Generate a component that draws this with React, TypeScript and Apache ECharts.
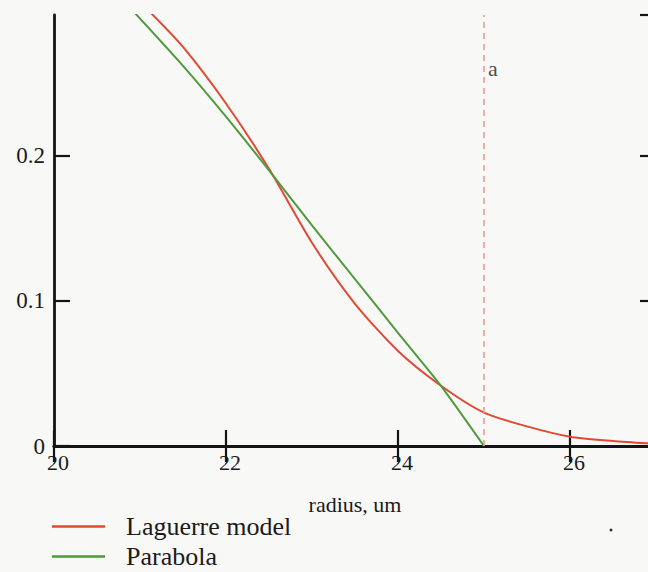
import React, { useEffect, useRef } from "react";
import * as echarts from "echarts";

const radiusLaguerre = [21.1, 21.5, 22, 22.5, 23, 23.5, 24, 24.5, 25, 25.5, 26, 26.5, 27];
const laguerreValues = [0.3, 0.275, 0.236, 0.191, 0.14, 0.098, 0.0655, 0.0415, 0.023, 0.0135, 0.0064, 0.0035, 0.0015];
const radiusParabola = [20.9, 21.5, 22, 22.5, 23, 23.5, 24, 24.5, 25];
const parabolaValues = [0.301, 0.262, 0.227, 0.19, 0.152, 0.115, 0.078, 0.0415, 0];
const markerRadius = [25];
const markerLabel = ["a"];
const legendNames = ["Laguerre model", "Parabola"];
const xTicks = [20, 22, 24, 26];
const yTicks = [0, 0.1, 0.2];

const FONT = "'Liberation Serif', 'Times New Roman', serif";
const RED = "#e04a33";
const GREEN = "#4f9a3e";
const AXIS = "#141414";

export default function App() {
  const ref = useRef<HTMLDivElement>(null);
  useEffect(() => {
    if (!ref.current) return;
    const chart = echarts.init(ref.current, undefined, { renderer: "svg" });
    const xFmt = (v: number) => (xTicks.some((t) => Math.abs(t - v) < 1e-6) ? String(v) : "");
    const yFmt = (v: number) => {
      const t = yTicks.find((k) => Math.abs(k - v) < 1e-6);
      return t === undefined ? "" : t === 0 ? "0" : t.toFixed(1);
    };
    const axisCommon = {
      type: "value" as const,
      axisLine: { show: true, lineStyle: { color: AXIS, width: 2.8 } },
      axisTick: { show: true, inside: true, length: 16, lineStyle: { color: AXIS, width: 2.2 } },
      splitLine: { show: false },
    };
    chart.setOption({
      animation: false,
      backgroundColor: "#f8f8f7",
      grid: { left: 54, top: 15, right: -8, bottom: 126, outerBoundsMode: "none" },
      xAxis: [
        {
          ...axisCommon,
          position: "bottom",
          min: 20,
          max: 27,
          interval: 2,
          name: "radius, um",
          nameLocation: "middle",
          nameGap: 47,
          nameTextStyle: { fontFamily: FONT, fontSize: 22, color: "#1a1a1a" },
          axisLabel: {
            formatter: xFmt,
            showMaxLabel: false,
            margin: 5,
            padding: [0, 0, 0, 8],
            fontFamily: FONT,
            fontSize: 22,
            color: "#1a1a1a",
          },
        },
        {
          ...axisCommon,
          position: "top",
          min: 20,
          max: 27,
          interval: 2,
          axisLabel: { show: false },
        },
      ],
      yAxis: [
        {
          ...axisCommon,
          position: "left",
          min: 0,
          max: 0.297,
          interval: 0.1,
          axisLabel: {
            formatter: yFmt,
            showMaxLabel: false,
            margin: 9,
            padding: [9, 0, 0, 0],
            fontFamily: FONT,
            fontSize: 23,
            color: "#1a1a1a",
          },
        },
        {
          ...axisCommon,
          position: "right",
          min: 0,
          max: 0.297,
          interval: 0.1,
          axisLabel: { show: false },
        },
      ],
      legend: {
        data: legendNames,
        orient: "vertical",
        left: 52,
        top: 511.5,
        height: 80,
        padding: 0,
        icon: "rect",
        itemWidth: 53,
        itemHeight: 2.5,
        itemGap: 0,
        textStyle: {
          fontFamily: FONT,
          fontSize: 26,
          lineHeight: 30,
          color: "#1a1a1a",
          padding: [0, 0, 0, 16],
        },
      },
      series: [
        {
          name: legendNames[0],
          type: "line",
          data: radiusLaguerre.map((r, i) => [r, laguerreValues[i]]),
          symbol: "none",
          smooth: 0.25,
          lineStyle: { color: RED, width: 2 },
          itemStyle: { color: RED },
          markLine: {
            silent: true,
            symbol: ["none", "none"],
            label: { show: false },
            lineStyle: { color: "#e8958a", type: [6, 5], width: 1.5 },
            data: markerRadius.map((r) => ({ xAxis: r })),
          },
        },
        {
          name: legendNames[1],
          type: "line",
          data: radiusParabola.map((r, i) => [r, parabolaValues[i]]),
          symbol: "none",
          smooth: 0.2,
          lineStyle: { color: GREEN, width: 2 },
          itemStyle: { color: GREEN },
        },
        {
          name: "marker",
          type: "scatter",
          symbolSize: 0,
          data: markerRadius.map((r) => [r, 0.26]),
          label: {
            show: true,
            position: "right",
            distance: 4,
            formatter: () => markerLabel[0],
            fontFamily: FONT,
            fontSize: 22,
            color: "#1a1a1a",
          },
        },
      ],
      graphic: [
        { type: "circle", shape: { cx: 611, cy: 530, r: 1.5 }, style: { fill: "#333" } },
      ],
    });
    return () => chart.dispose();
  }, []);
  return (
    <div
      ref={ref}
      style={{ position: "fixed", left: 0, top: 0, width: 648, height: 572 }}
    />
  );
}
